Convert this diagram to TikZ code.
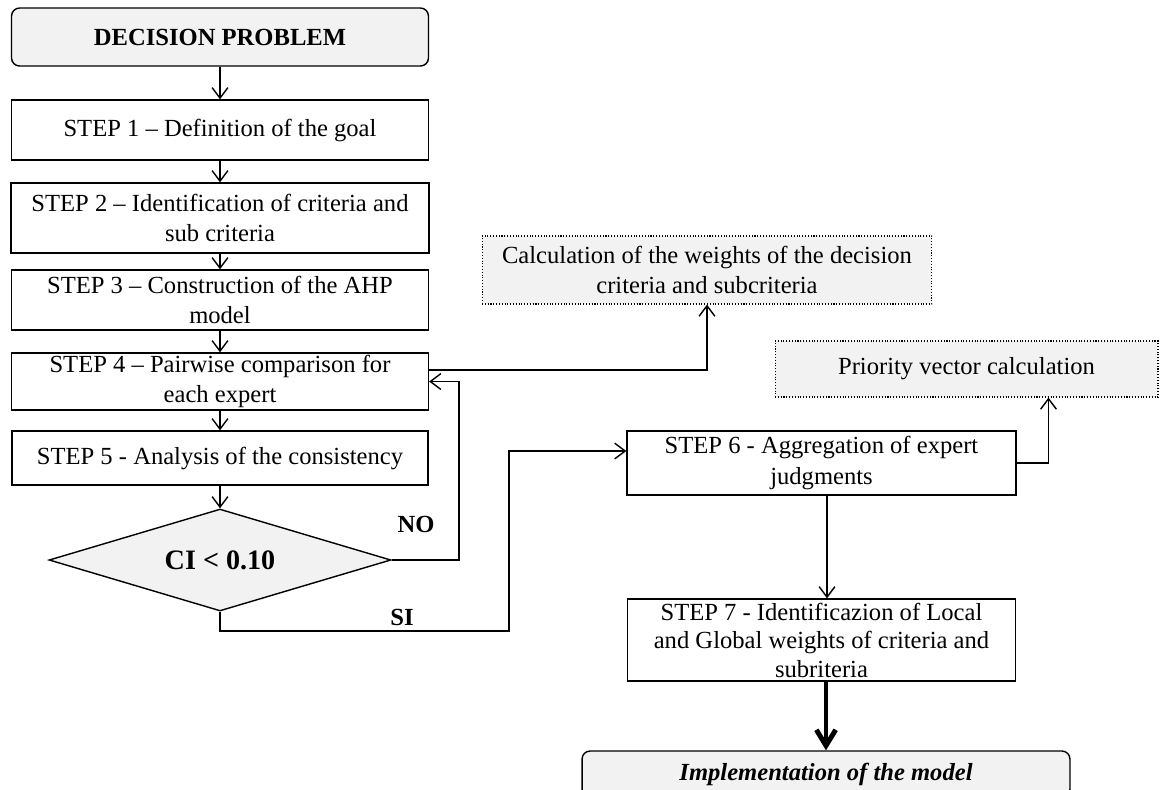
\documentclass[tikz,border=0pt]{standalone}
\usepackage{fontspec}
\setmainfont{Liberation Serif}
\usetikzlibrary{shapes.geometric,arrows.meta}
\definecolor{boxgray}{HTML}{F2F2F2}
\tikzstyle{every node}=[font=\fontsize{14}{17.5}\selectfont, align=center, inner sep=0pt]
\tikzstyle{stepbox}=[draw, line width=0.8pt]
\tikzstyle{termbox}=[draw, line width=0.8pt, fill=boxgray, rounded corners=0.16cm]
\tikzstyle{calcbox}=[draw, line width=0.6pt, densely dotted, fill=boxgray]
\tikzstyle{testbox}=[draw, line width=0.8pt, fill=boxgray, diamond, aspect=3.35]
\tikzstyle{arr}=[-{Straight Barb[length=6pt,width=9pt]}]
\tikzstyle{bigarr}=[line width=2.8pt, -{Straight Barb[length=9pt,width=11pt]}]

\begin{document}
\begin{tikzpicture}[x=0.02cm, y=-0.02cm, line width=0.8pt]
    \useasboundingbox (0,0) rectangle (1162,789);
    \clip (0,0) rectangle (1162,789);
% Main column
    \node[termbox, minimum width=8.34cm, minimum height=1.16cm] (prob) at (220,37) {\textbf{DECISION PROBLEM}};
    \node[stepbox, minimum width=8.34cm, minimum height=1.2cm] (step1) at (220,130) {STEP 1 -- Definition of the goal};
    \node[stepbox, minimum width=8.36cm, minimum height=1.4cm] (step2) at (220,218) {STEP 2 -- Identification of criteria and\\sub criteria};
    \node[stepbox, minimum width=8.34cm, minimum height=1.2cm] (step3) at (220,300) {STEP 3 -- Construction of the AHP\\model};
    \node[stepbox, minimum width=8.34cm, minimum height=1.14cm] (step4) at (220,381.5) {STEP 4 -- Pairwise comparison for\\each expert};
    \node[stepbox, minimum width=8.32cm, minimum height=1.08cm] (step5) at (220,458) {STEP 5 - Analysis of the consistency};
    \node[testbox, minimum width=6.84cm, minimum height=2.04cm] (ci) at (220,560) {\fontsize{16}{19}\selectfont\textbf{CI < 0.10}};
% Right column
    \node[calcbox, minimum width=9cm, minimum height=1.36cm] (weights) at (707,270) {Calculation of the weights of the decision\\criteria and subcriteria};
    \node[calcbox, minimum width=7.66cm, minimum height=1.12cm] (prio) at (966.5,369) {Priority vector calculation};
    \node[stepbox, minimum width=7.78cm, minimum height=1.28cm] (step6) at (821.5,463) {STEP 6 - Aggregation of expert\\judgments};
    \node[stepbox, minimum width=7.76cm, minimum height=1.64cm, font=\fontsize{14}{16.2}\selectfont] (step7) at (821.5,640) {STEP 7 - Identificazion of Local\\and Global weights of criteria and\\subriteria};
    \node[termbox, minimum width=9.76cm, minimum height=0.92cm] (impl) at (826,774) {\textbf{\textit{Implementation of the model}}};
% Answers
    \node (no) at (416,524) {\textbf{NO}};
    \node (si) at (402,617) {\textbf{SI}};
    \coordinate (noturn) at (459,381.5);
    \coordinate (siturn) at (509,631);
% Connectors
    \draw[arr] (prob) -- (step1);
    \draw[arr] (step1) -- (step2);
    \draw[arr] (step2) -- (step3);
    \draw[arr] (step3) -- (step4);
    \draw[arr] (step4) -- (step5);
    \draw[arr] (step5) -- (ci);
    \draw[arr] (ci.east) -| (noturn) -- (step4.east);
    \draw[arr] ([yshift=0.23cm]step4.east) -| (weights.south);
    \draw[arr] (ci.south) |- (siturn) |- ([yshift=0.24cm]step6.west);
    \draw[arr] (step6.east) -| ([xshift=1.64cm]prio.south);
    \draw[arr] ([xshift=0.11cm]step6.south) -- ([xshift=0.11cm]step7.north);
    \draw[bigarr] (step7.south -| impl.north) -- (impl.north);
\end{tikzpicture}
\end{document}
